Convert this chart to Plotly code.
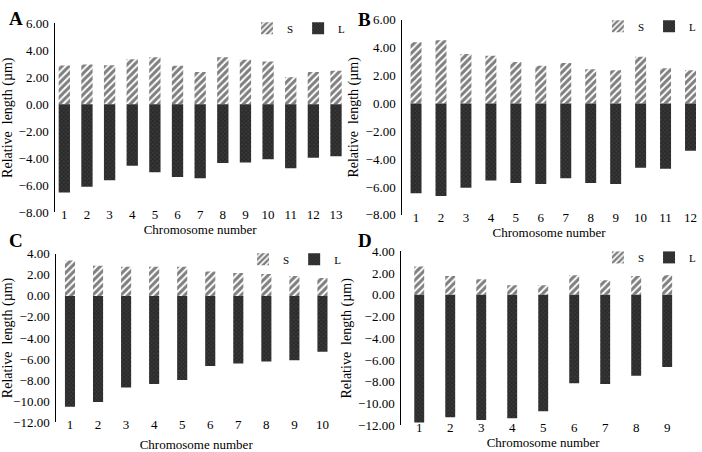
import plotly.graph_objects as go

# ---------------- data ----------------
chrom_a = list(range(1, 14))
s_a = [2.88, 2.96, 2.90, 3.34, 3.49, 2.86, 2.40, 3.49, 3.30, 3.17, 2.00, 2.40, 2.48]
l_a = [-6.56, -6.13, -5.65, -4.57, -5.05, -5.40, -5.50, -4.37, -4.33, -4.09, -4.76, -3.97, -3.87]

chrom_b = list(range(1, 13))
s_b = [4.39, 4.53, 3.55, 3.43, 2.97, 2.70, 2.90, 2.45, 2.38, 3.36, 2.52, 2.38]
l_b = [-6.45, -6.64, -6.06, -5.54, -5.72, -5.79, -5.38, -5.72, -5.79, -4.62, -4.69, -3.39]

chrom_c = list(range(1, 11))
s_c = [3.36, 2.87, 2.78, 2.78, 2.78, 2.32, 2.17, 2.08, 1.90, 1.71]
l_c = [-10.55, -10.09, -8.72, -8.38, -8.01, -6.67, -6.42, -6.24, -6.12, -5.32]

chrom_d = list(range(1, 10))
s_d = [2.60, 1.72, 1.42, 0.89, 0.89, 1.80, 1.33, 1.72, 1.80]
l_d = [-11.73, -11.26, -11.52, -11.35, -10.70, -8.12, -8.21, -7.44, -6.64]

panel_letters = ["A", "B", "C", "D"]
x_title = "Chromosome number"
y_title = "Relative  length (\u00b5m)"

W, H = 702, 452
FONT = "Liberation Serif, Times New Roman, serif"

panels = [
    dict(x=chrom_a, s=s_a, l=l_a, xd=(52, 346), yd=(17, 212), xr=(0.6, 13.4), yr=(-8, 6), bw=0.5,
         leg=(352, 7), let=(3, 12), xst=0),
    dict(x=chrom_b, s=s_b, l=l_b, xd=(404, 702), yd=(13.3, 215), xr=(0.447, 12.22), yr=(-8, 6), bw=0.44,
         leg=(708, 5), let=(357, 13), xst=0),
    dict(x=chrom_c, s=s_c, l=l_c, xd=(53, 337), yd=(255.3, 429.3), xr=(0.51, 10.49), yr=(-12, 4), bw=0.36,
         leg=(348, 246), let=(3, 241), xst=9),
    dict(x=chrom_d, s=s_d, l=l_d, xd=(403, 691), yd=(252.7, 432.7), xr=(0.42, 9.58), yr=(-12, 4), bw=0.32,
         leg=(708, 244), let=(357, 241), xst=0),
]

fig = go.Figure()
layout = dict(
    width=W, height=H, margin=dict(l=0, r=0, t=0, b=0),
    paper_bgcolor="white", plot_bgcolor="white",
    barmode="relative", font=dict(family=FONT, size=13, color="black"),
    annotations=[],
)

for i, p in enumerate(panels):
    k = "" if i == 0 else str(i + 1)
    legname = "legend" + k
    fig.add_trace(go.Bar(
        x=p["x"], y=p["s"], name="S", width=p["bw"],
        xaxis="x" + k, yaxis="y" + k, legend=legname,
        marker=dict(color="white", line=dict(width=0),
                    pattern=dict(shape="/", fgcolor="black", bgcolor="white", size=5, solidity=0.6)),
    ))
    fig.add_trace(go.Bar(
        x=p["x"], y=p["l"], name="L", width=p["bw"],
        xaxis="x" + k, yaxis="y" + k, legend=legname,
        marker=dict(color="#2e2e2e", line=dict(width=0),
                    pattern=dict(shape="x", fgcolor="#111111", bgcolor="#3a3a3a", size=3, solidity=0.5)),
    ))
    layout["xaxis" + k] = dict(
        domain=[p["xd"][0] / W, p["xd"][1] / W], range=list(p["xr"]), anchor="y" + k,
        showline=False, showgrid=False, zeroline=False, ticks="",
        tickmode="array", tickvals=p["x"], ticktext=[str(v) for v in p["x"]],
        tickfont=dict(family=FONT, size=13, color="black"), ticklabelstandoff=-7,
        ticklabeloverflow="allow",
        title=dict(text=x_title, font=dict(family=FONT, size=13, color="black"), standoff=p["xst"]),
    )
    layout["yaxis" + k] = dict(
        domain=[1 - p["yd"][1] / H, 1 - p["yd"][0] / H], range=list(p["yr"]), anchor="x" + k,
        showline=True, linecolor="black", linewidth=1, showgrid=False, zeroline=False,
        ticks="", dtick=2, tickformat=".2f", ticklabelstandoff=3,
        tickfont=dict(family=FONT, size=13, color="black"),
        title=dict(text=y_title, font=dict(family=FONT, size=14, color="black"), standoff=3),
    )
    layout[legname] = dict(
        x=p["leg"][0] / W, y=1 - p["leg"][1] / H, xanchor="right", yanchor="top",
        orientation="h", bgcolor="rgba(0,0,0,0)", itemwidth=30,
        font=dict(family=FONT, size=11, color="black"), traceorder="normal",
    )
    layout["annotations"].append(dict(
        text="<b>%s</b>" % panel_letters[i], x=p["let"][0] / W, y=1 - p["let"][1] / H,
        xref="paper", yref="paper", xanchor="left", yanchor="middle", showarrow=False,
        font=dict(family=FONT, size=19, color="black"),
    ))

fig.update_layout(**layout)
fig.write_html("out.html")
